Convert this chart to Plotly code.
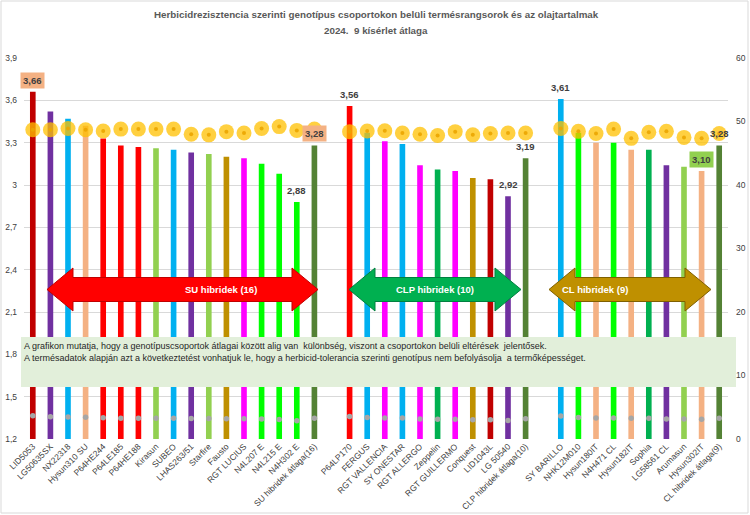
import plotly.graph_objects as go

# ---------------- data ----------------
su_names = ["LID5053", "LG50635SX", "NX22318", "Hysun310 SU", "P64HE244", "P64LE185", "P64HE188",
            "Kirasun", "SUBEO", "LHAS263/51", "Starfire", "Fausto", "RGT LUCIUS", "N4L207 E",
            "N4L215 E", "N4H302 E", "SU hibridek átlaga(16)"]
su_yield = [3.66, 3.52, 3.47, 3.42, 3.33, 3.28, 3.27, 3.26, 3.25, 3.23, 3.22, 3.20, 3.19, 3.15,
            3.08, 2.88, 3.28]
su_oil = [48.7, 48.7, 48.9, 48.7, 48.5, 48.8, 48.8, 48.8, 48.8, 48.0, 47.9, 48.4, 48.2, 48.9,
          49.2, 48.6, 48.8]
su_colors = ["#C00000", "#7030A0", "#00B0F0", "#F4B183", "#FF0000", "#FF0000", "#FF0000",
             "#92D050", "#00B0F0", "#7030A0", "#92D050", "#BF9000", "#FF00FF", "#00FF00",
             "#00FF00", "#00FF00", "#548235"]

clp_names = ["P64LP170", "FERGUS", "RGT VALLENCIA", "SY ONESTAR", "RGT ALLERGO", "Zeppelin",
             "RGT GUILLERMO", "Conquest", "LID1043L", "LG 50540", "CLP hibridek átlaga(10)"]
clp_yield = [3.56, 3.37, 3.31, 3.29, 3.14, 3.11, 3.10, 3.05, 3.04, 2.92, 3.19]
clp_oil = [48.4, 48.5, 48.55, 48.2, 48.0, 47.8, 48.4, 47.9, 48.1, 48.2, 48.2]
clp_colors = ["#FF0000", "#00B0F0", "#FF00FF", "#00B0F0", "#FF00FF", "#00B050", "#FF00FF",
              "#BF9000", "#C00000", "#7030A0", "#548235"]

cl_names = ["SY BARILLO", "NHK12M010", "Hysun180IT", "N4H471 CL", "Hysun182IT", "Sophia",
            "LG58561 CL", "Arumasun", "Hysun302IT", "CL hibridek átlaga(9)"]
cl_yield = [3.61, 3.37, 3.30, 3.30, 3.25, 3.25, 3.14, 3.13, 3.10, 3.28]
cl_oil = [48.9, 48.45, 48.1, 48.8, 47.35, 48.3, 48.45, 47.5, 47.35, 48.1]
cl_colors = ["#00B0F0", "#00FF00", "#F4B183", "#00FF00", "#F4B183", "#00B050", "#7030A0",
             "#92D050", "#F4B183", "#548235"]

y_ticks = [1.2, 1.5, 1.8, 2.1, 2.4, 2.7, 3.0, 3.3, 3.6, 3.9]
y_tick_text = ["1,2", "1,5", "1,8", "2,1", "2,4", "2,7", "3", "3,3", "3,6", "3,9"]
y2_ticks = [0, 10, 20, 30, 40, 50, 60]

# labelled bars: (name, background colour or None)
labelled = {"LID5053": "#F4B183", "N4H302 E": None, "SU hibridek átlaga(16)": "#F4B183",
            "P64LP170": None, "LG 50540": None, "CLP hibridek átlaga(10)": None,
            "SY BARILLO": None, "Hysun302IT": "#92D050", "CL hibridek átlaga(9)": None}

# ---------------- assemble ----------------
gap1, gap2 = " ", "  "
cats = su_names + [gap1] + clp_names + [gap2] + cl_names
yld = su_yield + [None] + clp_yield + [None] + cl_yield
oil = su_oil + [None] + clp_oil + [None] + cl_oil
cols = su_colors + ["rgba(0,0,0,0)"] + clp_colors + ["rgba(0,0,0,0)"] + cl_colors

FONT = "Liberation Sans, Arial"
W, H = 750, 515
L, R, T, B = 24, 22, 58, 76
PW, PH = W - L - R, H - T - B


def px(x):
    return (x - L) / PW


def py(y):
    return (H - B - y) / PH


fig = go.Figure()
fig.add_trace(go.Bar(x=cats, y=yld, marker=dict(color=cols, line=dict(width=0)),
                     showlegend=False, hoverinfo="x+y"))
fig.add_trace(go.Scatter(x=cats, y=oil, yaxis="y2", mode="markers",
                         marker=dict(size=15, color="rgba(255,192,0,0.75)"),
                         showlegend=False))
fig.add_trace(go.Scatter(x=cats, y=oil, yaxis="y2", mode="markers",
                         marker=dict(size=4, color="rgba(235,165,0,0.9)"),
                         showlegend=False, hoverinfo="skip"))
fig.add_trace(go.Scatter(x=cats, y=yld, yaxis="y2", mode="markers",
                         marker=dict(size=5.5, color="#A6A6A6"),
                         showlegend=False, hoverinfo="skip"))

annotations = []
for name, bg in labelled.items():
    v = yld[cats.index(name)]
    annotations.append(dict(
        x=name, y=v, xref="x", yref="y", yanchor="bottom", yshift=3,
        text="<b>" + f"{v:.2f}".replace(".", ",") + "</b>", showarrow=False,
        font=dict(family=FONT, size=9.5, color="#404040"),
        bgcolor=bg if bg else "rgba(0,0,0,0)", borderpad=2))

# title
annotations.append(dict(x=0.5, y=py(15), xref="paper", yref="paper", yanchor="middle",
                        xanchor="center", showarrow=False,
                        text="<b>Herbicidrezisztencia szerinti genotípus csoportokon belüli termésrangsorok és az olajtartalmak</b>",
                        font=dict(family=FONT, size=9.8, color="#595959")))
annotations.append(dict(x=0.5, y=py(30), xref="paper", yref="paper", yanchor="middle",
                        xanchor="center", showarrow=False,
                        text="<b>2024.  9 kísérlet átlaga</b>",
                        font=dict(family=FONT, size=9.8, color="#595959")))

shapes = []


def arrow(x0, x1, yc, color, line_color, text):
    hh, bh, hl = 21.5, 12, 26
    pts = [(x0, yc), (x0 + hl, yc - hh), (x0 + hl, yc - bh), (x1 - hl, yc - bh),
           (x1 - hl, yc - hh), (x1, yc), (x1 - hl, yc + hh), (x1 - hl, yc + bh),
           (x0 + hl, yc + bh), (x0 + hl, yc + hh)]
    path = "M " + " L ".join(f"{px(a):.5f},{py(b):.5f}" for a, b in pts) + " Z"
    shapes.append(dict(type="path", xref="paper", yref="paper", path=path,
                       fillcolor=color, line=dict(color=line_color, width=1)))
    annotations.append(dict(x=px((x0 + x1) / 2), y=py(yc), xref="paper", yref="paper",
                            showarrow=False, text=f"<b>{text}</b>",
                            font=dict(family=FONT, size=9.5, color="white")))


# note box
shapes.append(dict(type="rect", xref="paper", yref="paper", x0=px(21), x1=px(736),
                   y0=py(387), y1=py(337), fillcolor="#E2EFDA", line=dict(width=0),
                   layer="above"))
annotations.append(dict(x=px(22), y=py(339), xref="paper", yref="paper", xanchor="left",
                        yanchor="top", align="left", showarrow=False,
                        text="A grafikon mutatja, hogy a genotípuscsoportok átlagai között alig van  különbség, viszont a csoportokon belüli eltérések  jelentősek.<br>"
                             "A termésadatok alapján azt a következtetést vonhatjuk le, hogy a herbicid-tolerancia szerinti genotípus nem befolyásolja  a termőképességet.",
                        font=dict(family=FONT, size=9, color="#262626")))

arrow(47, 318, 289.5, "#FF0000", "#C00000", "SU hibridek (16)")
arrow(349, 521, 289.5, "#00B050", "#008040", "CLP hibridek (10)")
arrow(549, 711, 289.5, "#BF9000", "#7F6000", "CL hibridek (9)")

# chart border
shapes.append(dict(type="rect", xref="paper", yref="paper", x0=px(1), x1=px(748),
                   y0=py(513), y1=py(1), line=dict(color="#D9D9D9", width=1),
                   fillcolor="rgba(0,0,0,0)", layer="below"))

fig.update_layout(
    template="none",
    width=W, height=H, margin=dict(l=L, r=R, t=T, b=B, autoexpand=False),
    paper_bgcolor="white", plot_bgcolor="white",
    separators=",.", bargap=0.68, showlegend=False,
    font=dict(family=FONT, size=9, color="#595959"),
    xaxis=dict(type="category", categoryorder="array", categoryarray=cats,
               range=[-0.5, len(cats) - 0.5],
               tickangle=-45, tickfont=dict(family=FONT, size=8.5, color="#404040"),
               showgrid=False, showline=False, ticks="", zeroline=False, automargin=False),
    yaxis=dict(range=[1.2, 3.9], tickvals=y_ticks, ticktext=y_tick_text,
               gridcolor="#D9D9D9", gridwidth=1, showline=False, zeroline=False,
               tickfont=dict(family=FONT, size=8.5, color="#404040"), ticks="",
               ticklabelstandoff=6, automargin=False),
    yaxis2=dict(range=[0, 60], tickvals=y2_ticks, overlaying="y", side="right",
                showgrid=False, zeroline=False, showline=False, automargin=False,
                ticklabelstandoff=7,
                tickfont=dict(family=FONT, size=8.5, color="#404040"), ticks=""),
    shapes=shapes, annotations=annotations,
)

fig.write_html("out.html", config={"displayModeBar": False},
               post_script="document.body.style.margin='0';document.body.style.overflow='hidden';")
